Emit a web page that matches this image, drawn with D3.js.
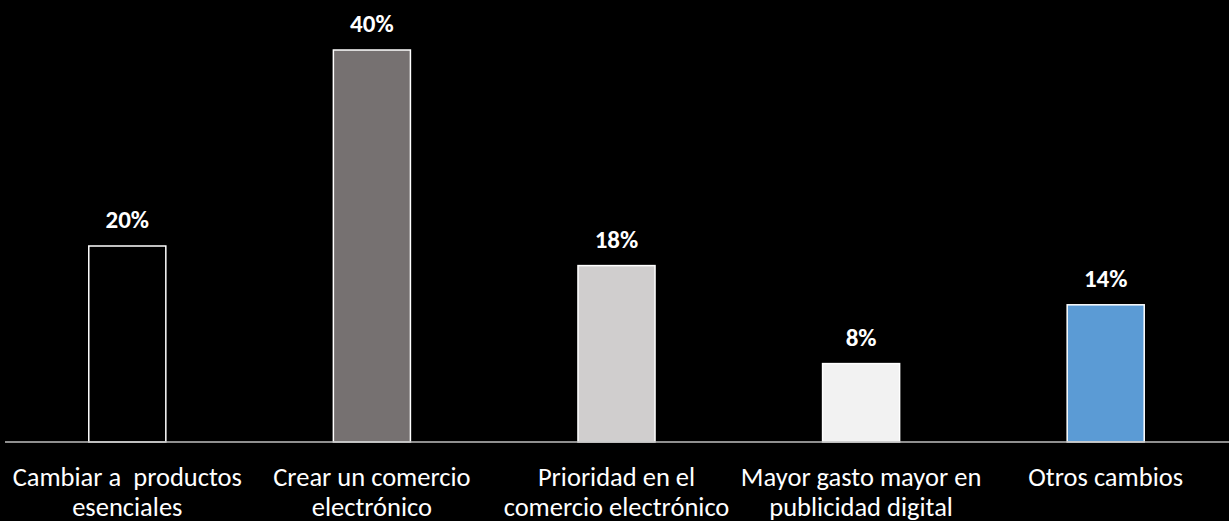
<!DOCTYPE html>
<html><head><meta charset="utf-8">
<script src="https://cdn.jsdelivr.net/npm/d3@7"></script>
<style>html,body{margin:0;padding:0;background:#000;}svg{display:block;}</style>
</head><body>
<svg id="chart" width="1229" height="521"></svg>
<script>
const categories = [
  ["Cambiar a  productos", "esenciales"],
  ["Crear un comercio", "electrónico"],
  ["Prioridad en el", "comercio electrónico"],
  ["Mayor gasto mayor en", "publicidad digital"],
  ["Otros cambios"]
];
const values = [20, 40, 18, 8, 14];
const valueLabels = ["20%", "40%", "18%", "8%", "14%"];
const colors = ["#000000", "#767171", "#d0cece", "#f2f2f2", "#5b9bd5"];

const W = 1229, H = 521;
const baseY = 442;
const svg = d3.select("#chart");
const font = "Carlito, Calibri, Lato, 'Noto Sans', sans-serif";

const x = d3.scaleBand().domain(d3.range(values.length)).range([5, 1228]).paddingInner(0.685).paddingOuter(0.3425);
const y = d3.scaleLinear().domain([0, 40]).range([baseY, 50]);

svg.append("rect").attr("width", W).attr("height", H).attr("fill", "#000");

svg.selectAll("rect.bar").data(values).join("rect")
  .attr("class", "bar")
  .attr("x", (d, i) => x(i))
  .attr("y", d => y(d))
  .attr("width", x.bandwidth())
  .attr("height", d => baseY - y(d))
  .attr("fill", (d, i) => colors[i])
  .attr("stroke", "#ffffff")
  .attr("stroke-width", 1.5);

// axis line
const axis = d3.axisBottom(x).tickSize(0).tickFormat("");
const ax = svg.append("g").attr("transform", `translate(0,${baseY})`).call(axis);
ax.select(".domain").attr("stroke", "#bfbfbf").attr("stroke-width", 1.5).attr("d", "M5,0H1229");

svg.selectAll("text.val").data(values).join("text")
  .attr("class", "val")
  .attr("x", (d, i) => x(i) + x.bandwidth() / 2)
  .attr("y", d => y(d) - 18)
  .attr("text-anchor", "middle")
  .attr("fill", "#ffffff")
  .attr("font-family", font)
  .attr("font-weight", "bold")
  .attr("font-size", 25)
  .text((d, i) => valueLabels[i]);

const lab = svg.selectAll("text.cat").data(categories).join("text")
  .attr("class", "cat")
  .attr("text-anchor", "middle")
  .attr("fill", "#ffffff")
  .attr("font-family", font)
  .attr("font-size", 26.5);
lab.each(function(lines, i) {
  const t = d3.select(this);
  lines.forEach((ln, j) => {
    t.append("tspan")
      .attr("x", x(i) + x.bandwidth() / 2)
      .attr("y", 486 + j * 30)
      .attr("xml:space", "preserve")
      .style("white-space", "pre")
      .text(ln);
  });
});
</script>
</body></html>
